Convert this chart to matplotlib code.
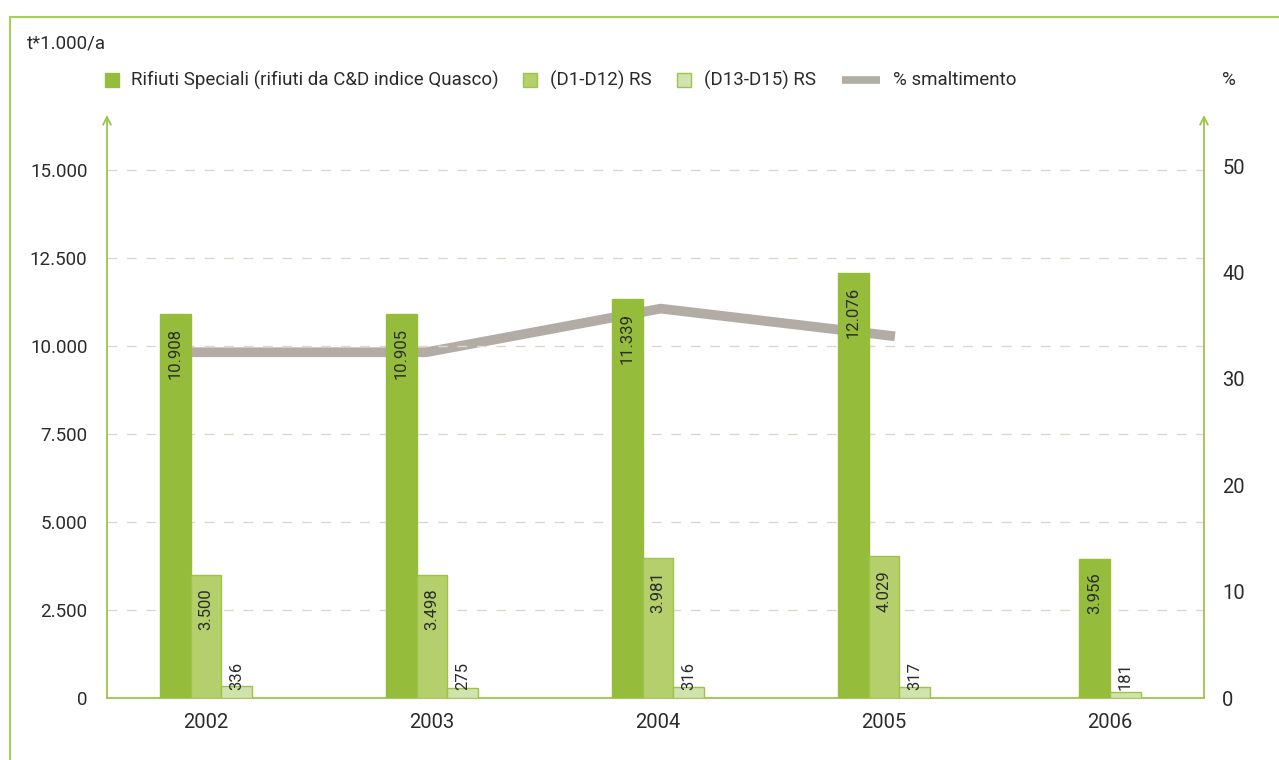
import matplotlib
matplotlib.use('Agg')

import matplotlib.pyplot as plt
from matplotlib.patches import Rectangle
from matplotlib.lines import Line2D

# data
years = ['2002', '2003', '2004', '2005', '2006']
rifiuti_speciali = [10908, 10905, 11339, 12076, 3956]
d1_d12 = [3500, 3498, 3981, 4029, None]
d13_d15 = [336, 275, 316, 317, 181]

perc_years = ['2002', '2003', '2004', '2005']
perc_smaltimento = [32.5, 32.5, 36.6, 34.0]

series_names = ['Rifiuti Speciali (rifiuti da C&D indice Quasco)', '(D1-D12) RS', '(D13-D15) RS']
line_name = '% smaltimento'

# styles
fills = ['#95bd3b', '#b5cf6c', '#d1e3ad']
edges = ['#95bd3b', '#9cc44b', '#9cc44b']
line_col = '#b3aca5'
green = '#9cc44b'
grid_col = '#ddd8cc'
txt = '#2b2b2b'

plt.rcParams['font.family'] = ['Roboto', 'DejaVu Sans']
plt.rcParams['text.color'] = txt

W, H = 1279, 760
fig = plt.figure(figsize=(W / 100, H / 100), dpi=100)
rect = [107 / W, 1 - 698 / H, (1204 - 107) / W, (698 - 115) / H]

ax2 = fig.add_axes(rect, frameon=False)   # percentage line, behind bars
ax = fig.add_axes(rect)
ax.set_zorder(2)
ax.patch.set_visible(False)

ymax = 16560
w = 0.137

def fmt(v):
    return '{:,}'.format(v).replace(',', '.')

series = [rifiuti_speciali, d1_d12, d13_d15]
for i in range(len(years)):
    present = [k for k in range(3) if series[k][i] is not None]
    n = len(present)
    for j, k in enumerate(present):
        x = i + (j - (n - 1) / 2) * w
        v = series[k][i]
        ax.bar(x, v, w, color=fills[k], edgecolor=edges[k], lw=1, zorder=3)
        if v > 2000:
            ax.annotate(fmt(v), (x, v), xytext=(0, -10), textcoords='offset points',
                        rotation=90, ha='center', va='top', fontsize=12, color=txt, zorder=4)
        else:
            ax.annotate(fmt(v), (x, 0), xytext=(0, 6), textcoords='offset points',
                        rotation=90, ha='center', va='bottom', fontsize=12, color=txt, zorder=4)

ax.set_xlim(-0.438, 4.416)
ax.set_ylim(0, ymax)
ax.set_xticks(range(len(years)))
ax.set_xticklabels(years, fontsize=14.5)
yt = list(range(0, 15001, 2500))
ax.set_yticks(yt)
ax.set_yticklabels([fmt(v) for v in yt], fontsize=13.5)
ax.tick_params(length=0, colors=txt)
ax.tick_params(axis='x', pad=11)
ax.tick_params(axis='y', pad=14)
for y in yt[1:]:
    ax.axhline(y, color=grid_col, lw=1, ls=(0, (7, 7)), zorder=1)
for s in ['top', 'right', 'left']:
    ax.spines[s].set_visible(False)
ax.spines['bottom'].set_color(green)
ax.spines['bottom'].set_linewidth(1.3)

# percentage line on its own category scale
ax2.plot(range(len(perc_years)), perc_smaltimento, color=line_col, lw=7, solid_capstyle='butt')
ax2.set_xlim(-(192 - 107) / 234.3, 3 + (1204 - 895) / 234.3)
ax2.set_ylim(0, 54.8)
ax2.set_xticks([])
ax2.yaxis.tick_right()
ax2.set_yticks(range(0, 51, 10))
ax2.tick_params(length=0, colors=txt, labelsize=14.5, pad=13)

# axis arrows
for xa in [0, 1]:
    ax.annotate('', xy=(xa, 1), xytext=(xa, 0), xycoords='axes fraction',
                arrowprops=dict(arrowstyle='->', color=green, lw=1.3,
                                shrinkA=0, shrinkB=0, mutation_scale=14))

# outer frame
fig.add_artist(Line2D([10 / W, 1], [1 - 17 / H] * 2, color='#a8cf5a', lw=1.5))
fig.add_artist(Line2D([10 / W] * 2, [0, 1 - 17 / H], color='#a8cf5a', lw=1.5))

# titles
fig.text(27 / W, 1 - 44 / H, 't*1.000/a', fontsize=13.5, va='center', ha='left')
fig.text(1222 / W, 1 - 80 / H, '%', fontsize=13.5, va='center', ha='left')

# legend
yl = 1 - 80 / H
sq = 14
for k, (xs, xt) in enumerate([(105, 131), (523, 550), (677, 704)]):
    fig.add_artist(Rectangle((xs / W, yl - sq / 2 / H), sq / W, sq / H, transform=fig.transFigure,
                             facecolor=fills[k], edgecolor=edges[k], lw=1))
    fig.text(xt / W, yl, series_names[k], fontsize=13.5, va='center', ha='left')
fig.add_artist(Line2D([842 / W, 880 / W], [yl, yl], color=line_col, lw=5.5, solid_capstyle='butt'))
fig.text(893 / W, yl, line_name, fontsize=13.5, va='center', ha='left')

fig.savefig('out.png', dpi=100)
